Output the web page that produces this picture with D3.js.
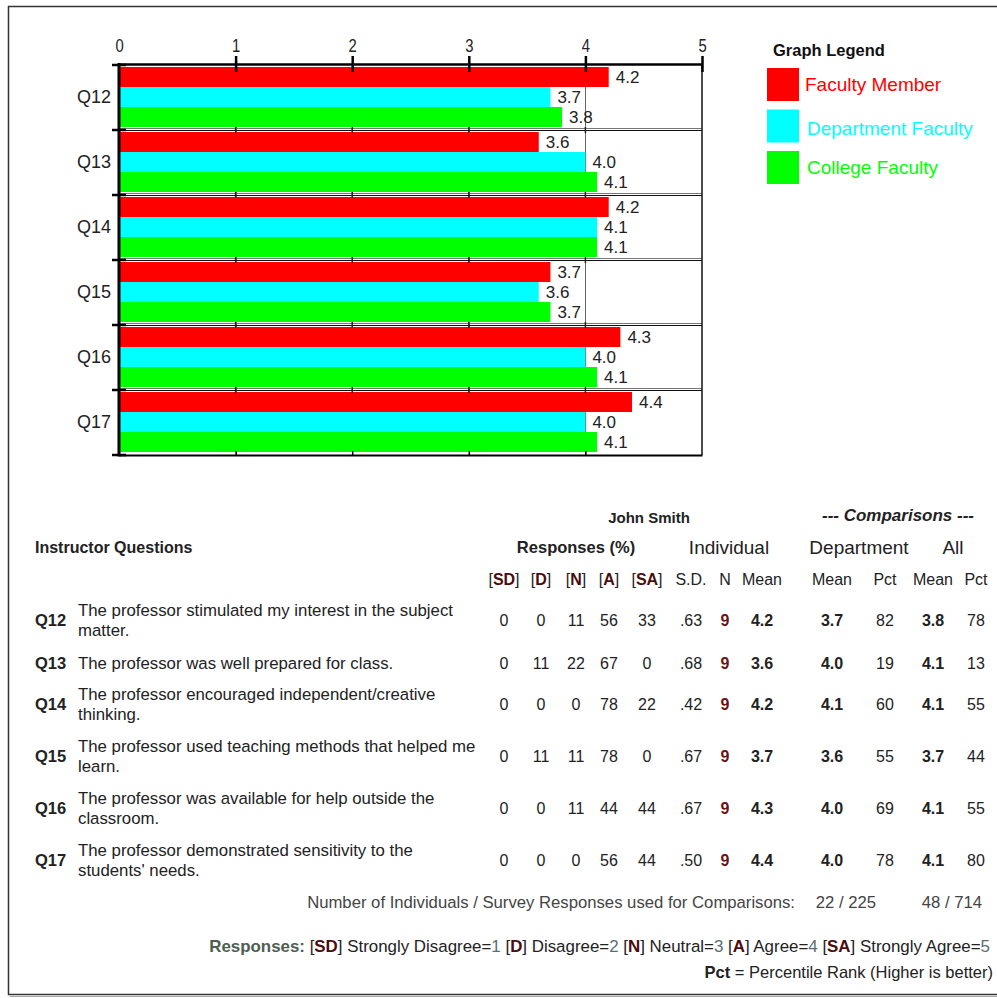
<!DOCTYPE html>
<html>
<head>
<meta charset="utf-8">
<script src="https://cdn.jsdelivr.net/npm/d3@7"></script>
<style>
  body { margin: 0; background: #fff; }
  svg text { font-family: "Liberation Sans", Arial, Helvetica, sans-serif; }
</style>
</head>
<body>
<div id="report"></div>
<script>
// ---- data ----
var questions = ["Q12", "Q13", "Q14", "Q15", "Q16", "Q17"];
var questionText = [
  "The professor stimulated my interest in the subject\nmatter.",
  "The professor was well prepared for class.",
  "The professor encouraged independent/creative\nthinking.",
  "The professor used teaching methods that helped me\nlearn.",
  "The professor was available for help outside the\nclassroom.",
  "The professor demonstrated sensitivity to the\nstudents' needs."
];
var seriesNames = ["Faculty Member", "Department Faculty", "College Faculty"];
var seriesColors = ["#ff0000", "#00ffff", "#00ff00"];
var facultyMean = [4.2, 3.6, 4.2, 3.7, 4.3, 4.4];
var deptMean = [3.7, 4.0, 4.1, 3.6, 4.0, 4.0];
var collegeMean = [3.8, 4.1, 4.1, 3.7, 4.1, 4.1];
var xTicks = [0, 1, 2, 3, 4, 5];

var pctSD = [0, 0, 0, 0, 0, 0];
var pctD = [0, 11, 0, 11, 0, 0];
var pctN = [11, 22, 0, 11, 11, 0];
var pctA = [56, 67, 78, 78, 44, 56];
var pctSA = [33, 0, 22, 0, 44, 44];
var stdDev = [".63", ".68", ".42", ".67", ".67", ".50"];
var nResp = [9, 9, 9, 9, 9, 9];
var deptPct = [82, 19, 60, 55, 69, 78];
var allPct = [78, 13, 55, 44, 55, 80];
var compCounts = ["22 / 225", "48 / 714"];
var responseKey = [["SD", "Strongly Disagree", 1], ["D", "Disagree", 2], ["N", "Neutral", 3], ["A", "Agree", 4], ["SA", "Strongly Agree", 5]];

var W = 997, H = 998;
var maroon = "#4a0c0c";

var svg = d3.select("#report").append("svg")
  .attr("width", W)
  .attr("height", H);

// page frame
svg.append("rect")
  .attr("x", 8.5).attr("y", 6.5)
  .attr("width", 1000).attr("height", 988)
  .style("fill", "none")
  .style("stroke", "#333")
  .style("stroke-width", 1.5);
svg.append("line")
  .attr("x1", 10).attr("x2", W).attr("y1", 996.5).attr("y2", 996.5)
  .style("stroke", "#aaa");

// ---------------- bar chart ----------------
var x = d3.scaleLinear().domain([0, 5]).range([119, 702]);
var y = d3.scaleBand().domain(questions).range([65, 455]);
var ySub = d3.scaleBand().domain(seriesNames).range([2, y.bandwidth() - 3]);
var color = d3.scaleOrdinal().domain(seriesNames).range(seriesColors);

var chart = svg.append("g");

// vertical grid lines
chart.selectAll(".grid")
  .data(xTicks.slice(1, 5))
  .enter().append("line")
    .attr("x1", d => Math.round(x(d)) + 0.5).attr("x2", d => Math.round(x(d)) + 0.5)
    .attr("y1", 65).attr("y2", 455)
    .style("stroke", "#666")
    .style("stroke-width", 1);

var rows = questions.map(function(q, i) {
  return { q: q, vals: [facultyMean[i], deptMean[i], collegeMean[i]] };
});

var group = chart.selectAll(".grp")
  .data(rows)
  .enter().append("g")
    .attr("transform", d => "translate(0," + y(d.q) + ")");

group.selectAll("rect")
  .data(d => d.vals.map((v, k) => ({ s: seriesNames[k], v: v })))
  .enter().append("rect")
    .attr("x", x(0))
    .attr("y", d => ySub(d.s))
    .attr("width", d => x(d.v) - x(0))
    .attr("height", ySub.bandwidth())
    .style("fill", d => color(d.s));

group.selectAll(".val")
  .data(d => d.vals.map((v, k) => ({ s: seriesNames[k], v: v })))
  .enter().append("text")
    .attr("x", d => x(d.v) + 7)
    .attr("y", d => ySub(d.s) + ySub.bandwidth() / 2)
    .attr("dy", "0.36em")
    .style("font-size", "17px")
    .style("fill", "#222")
    .text(d => d.v.toFixed(1));

// separators between question groups (double line)
var bounds = questions.slice(1).map(q => y(q));
chart.selectAll(".sepA")
  .data(bounds)
  .enter().append("line")
    .attr("x1", x(0)).attr("x2", x(5))
    .attr("y1", d => d - 1.5).attr("y2", d => d - 1.5)
    .style("stroke", "#777");
chart.selectAll(".sepB")
  .data(bounds)
  .enter().append("line")
    .attr("x1", x(0)).attr("x2", x(5))
    .attr("y1", d => d + 0.5).attr("y2", d => d + 0.5)
    .style("stroke", "#111");
// small ticks on separators
bounds.forEach(function(b) {
  chart.selectAll(null)
    .data(xTicks.slice(1, 5))
    .enter().append("line")
      .attr("x1", d => x(d)).attr("x2", d => x(d))
      .attr("y1", b - 3).attr("y2", b + 3)
      .style("stroke", "#222")
      .style("stroke-width", 1.5);
});

// left boundary ticks
chart.selectAll(".lt")
  .data([65].concat(bounds).concat([455]))
  .enter().append("line")
    .attr("x1", 112).attr("x2", 126)
    .attr("y1", d => d).attr("y2", d => d)
    .style("stroke", "#000")
    .style("stroke-width", 2.5);

// right edge at 5
chart.append("line")
  .attr("x1", x(5)).attr("x2", x(5)).attr("y1", 64).attr("y2", 455)
  .style("stroke", "#111").style("stroke-width", 1.5);

// top axis
var topAxis = chart.append("g")
  .attr("transform", "translate(0,64)")
  .call(d3.axisTop(x).tickValues(xTicks).tickSize(8).tickSizeOuter(0).tickPadding(4).tickFormat(d3.format("d")));
topAxis.select(".domain").style("stroke-width", 2.5).style("stroke", "#000");
topAxis.selectAll(".tick line").attr("y1", 8).style("stroke-width", 2.5).style("stroke", "#000");
topAxis.selectAll(".tick").filter(d => d === 0).select("line").remove();
topAxis.selectAll(".tick text")
  .style("font-size", "19px")
  .style("fill", "#222")
  .attr("transform", "scale(0.78,1)");

// bottom axis
var botAxis = chart.append("g")
  .attr("transform", "translate(0,455)")
  .call(d3.axisBottom(x).tickValues(xTicks.slice(1, 5)).tickSize(-4).tickSizeOuter(0).tickFormat(""));
botAxis.select(".domain").style("stroke-width", 2).style("stroke", "#000");
botAxis.selectAll(".tick line").style("stroke-width", 1.5).style("stroke", "#000");

// left axis with question labels
var leftAxis = chart.append("g")
  .attr("transform", "translate(" + x(0) + ",0)")
  .call(d3.axisLeft(y).tickSize(0).tickPadding(8));
leftAxis.select(".domain").remove();
leftAxis.selectAll(".tick text").style("font-size", "18px").style("fill", "#222");
chart.append("line")
  .attr("x1", x(0)).attr("x2", x(0)).attr("y1", 63).attr("y2", 456.5)
  .style("stroke", "#000").style("stroke-width", 3);

// legend
var legend = svg.append("g");
legend.append("text")
  .attr("x", 773).attr("y", 56)
  .style("font-size", "16.5px").style("font-weight", "bold").style("fill", "#111")
  .text("Graph Legend");
var leg = legend.selectAll(".leg")
  .data(seriesNames)
  .enter().append("g")
    .attr("transform", (d, i) => "translate(767," + (68 + i * 41.5) + ")");
leg.append("rect")
  .attr("width", 32).attr("height", 33)
  .style("fill", d => color(d));
leg.append("text")
  .attr("x", (d, i) => i === 0 ? 38 : 40)
  .attr("y", (d, i) => 16.5 + (i === 1 ? 2 : 0))
  .attr("dy", "0.36em")
  .style("font-size", "19px")
  .style("fill", d => color(d))
  .text(d => d);

// ---------------- table ----------------
var colX = [504, 541, 576, 609, 647, 691, 725, 762, 832, 885, 933, 976];
var rowY = [620, 663, 704, 756, 808, 860];
var table = svg.append("g").style("fill", "#222");

table.append("text").attr("x", 649).attr("y", 523).attr("text-anchor", "middle")
  .style("font-size", "15px").style("font-weight", "bold").text("John Smith");
table.append("text").attr("x", 898).attr("y", 521).attr("text-anchor", "middle")
  .style("font-size", "17px").style("font-weight", "bold").style("font-style", "italic")
  .text("--- Comparisons ---");
table.append("text").attr("x", 35).attr("y", 553)
  .style("font-size", "16px").style("font-weight", "bold").text("Instructor Questions");
table.append("text").attr("x", 576).attr("y", 553).attr("text-anchor", "middle")
  .style("font-size", "16.5px").style("font-weight", "bold").text("Responses (%)");
[["Individual", 729], ["Department", 859], ["All", 953]].forEach(function(h) {
  table.append("text").attr("x", h[1]).attr("y", 554).attr("text-anchor", "middle")
    .style("font-size", "19px").text(h[0]);
});

// bracketed response headers
responseKey.forEach(function(r, k) {
  var t = table.append("text").attr("x", colX[k]).attr("y", 585).attr("text-anchor", "middle")
    .style("font-size", "16px");
  t.append("tspan").text("[");
  t.append("tspan").style("font-weight", "bold").style("fill", maroon).text(r[0]);
  t.append("tspan").text("]");
});
["S.D.", "N", "Mean", "Mean", "Pct", "Mean", "Pct"].forEach(function(h, k) {
  table.append("text").attr("x", colX[k + 5]).attr("y", 585).attr("text-anchor", "middle")
    .style("font-size", "16px").text(h);
});

questions.forEach(function(q, i) {
  var cy = rowY[i];
  table.append("text").attr("x", 35).attr("y", cy + 6)
    .style("font-size", "16.5px").style("font-weight", "bold").text(q);
  var lines = questionText[i].split("\n");
  var qt = table.append("text").style("font-size", "16.8px");
  lines.forEach(function(l, j) {
    qt.append("tspan")
      .attr("x", 78)
      .attr("y", cy + 6 + (j - (lines.length - 1) / 2) * 20)
      .text(l);
  });
  var cells = [pctSD[i], pctD[i], pctN[i], pctA[i], pctSA[i], stdDev[i], nResp[i],
    facultyMean[i].toFixed(1), deptMean[i].toFixed(1), deptPct[i], collegeMean[i].toFixed(1), allPct[i]];
  cells.forEach(function(c, k) {
    table.append("text")
      .attr("x", colX[k]).attr("y", cy + 6)
      .attr("text-anchor", "middle")
      .style("font-size", "16px")
      .style("font-weight", [6, 7, 8, 10].indexOf(k) >= 0 ? "bold" : "normal")
      .style("fill", k === 6 ? "#6a1414" : "#222")
      .text(c);
  });
});

// footer
var foot = svg.append("g").style("font-size", "16.7px").style("fill", "#444");
foot.append("text").attr("x", 795).attr("y", 908).attr("text-anchor", "end")
  .text("Number of Individuals / Survey Responses used for Comparisons:");
foot.selectAll(".cc")
  .data(compCounts)
  .enter().append("text")
    .attr("x", (d, i) => [846, 952][i]).attr("y", 908).attr("text-anchor", "middle")
    .text(d => d);

var key = foot.append("text").attr("x", 990).attr("y", 952).attr("text-anchor", "end")
  .style("fill", "#222").style("font-size", "16.9px");
key.append("tspan").style("font-weight", "bold").style("fill", "#4e5e52").text("Responses: ");
responseKey.forEach(function(r, k) {
  key.append("tspan").text("[");
  key.append("tspan").style("font-weight", "bold").style("fill", maroon).text(r[0]);
  key.append("tspan").text("] " + r[1] + "=");
  key.append("tspan").style("fill", "#5a6e6e").text(r[2] + (k < 4 ? " " : ""));
});

var pctNote = foot.append("text").attr("x", 993).attr("y", 978).attr("text-anchor", "end")
  .style("fill", "#222").style("font-size", "16.5px");
pctNote.append("tspan").style("font-weight", "bold").text("Pct");
pctNote.append("tspan").text(" = Percentile Rank (Higher is better)");
</script>
</body>
</html>
